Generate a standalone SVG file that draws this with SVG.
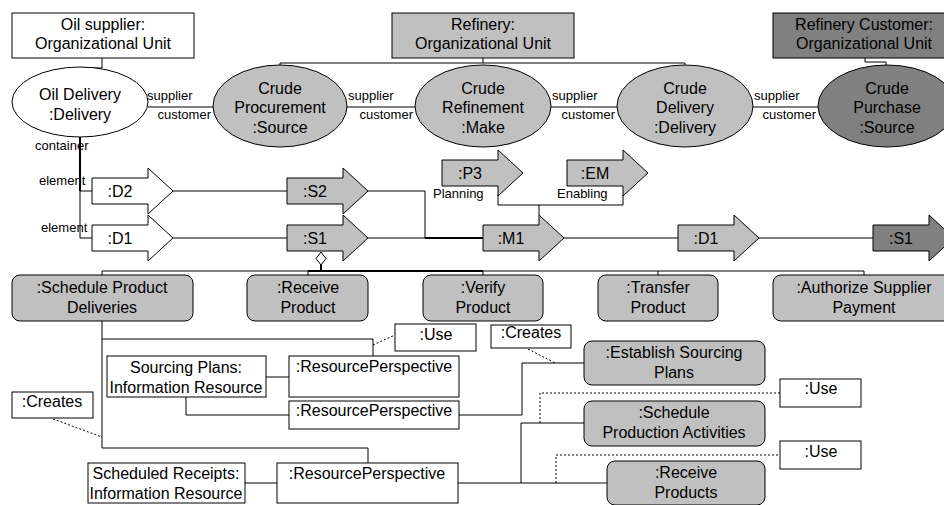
<svg xmlns="http://www.w3.org/2000/svg" xmlns:xlink="http://www.w3.org/1999/xlink" width="944" height="505" viewBox="0 0 944 505">
<style>
text{font-family:"Liberation Sans",Arial,sans-serif;font-size:16px;fill:#000;text-anchor:middle}
.sm{font-size:13px}
.st{text-anchor:start}
.en{text-anchor:end}
.box{stroke:#000;stroke-width:1}
.w{fill:#fff}
.g{fill:#c0c0c0}
.d{fill:#808080}
.ln{fill:none;stroke:#000;stroke-width:1}
.th{fill:none;stroke:#000;stroke-width:2}
.dot{fill:none;stroke:#000;stroke-width:1;stroke-dasharray:2,2}
</style>
<defs>
<path id="arr" d="M0,-13H56V-23L81,0L56,23V13H0Z" stroke="#000" stroke-width="1"/>
</defs>
<rect width="944" height="505" fill="#fff"/>

<g id="connectors">
<polyline class="ln" points="102,58 102,68 80,68 80,67"/>
<polyline class="ln" points="483,58 483,63"/>
<polyline class="ln" points="280,65 280,63 685,63 685,65"/>
<polyline class="ln" points="865,58 865,62 886,62 886,65"/>
<line class="ln" x1="148" y1="107" x2="213" y2="107"/>
<line class="ln" x1="347" y1="107" x2="415" y2="107"/>
<line class="ln" x1="551" y1="107" x2="617" y2="107"/>
<line class="ln" x1="753" y1="107" x2="818" y2="107"/>
<line class="th" x1="80" y1="137" x2="80" y2="191"/>
<polyline class="ln" points="92,191 80,191 80,238 92,238"/>
<line class="ln" x1="173" y1="191" x2="287" y2="191"/>
<line class="ln" x1="173" y1="238" x2="287" y2="238"/>
<polyline class="ln" points="368,191 425,191 425,238"/>
<line class="ln" x1="368" y1="238" x2="425" y2="238"/>
<line class="th" x1="425" y1="238" x2="483" y2="238"/>
<polyline class="ln" points="498,195 498,205 623,205 623,195"/>
<line class="ln" x1="539" y1="205" x2="539" y2="215"/>
<line class="ln" x1="563" y1="238" x2="678" y2="238"/>
<line class="ln" x1="759" y1="238" x2="873" y2="238"/>
<line class="th" x1="321" y1="265" x2="321" y2="271"/>
<line class="ln" x1="102" y1="271" x2="864" y2="271"/>
<line class="th" x1="308" y1="271" x2="483" y2="271"/>
<line class="ln" x1="102" y1="271" x2="102" y2="275"/>
<line class="ln" x1="308" y1="271" x2="308" y2="275"/>
<line class="ln" x1="483" y1="271" x2="483" y2="275"/>
<line class="ln" x1="658" y1="271" x2="658" y2="275"/>
<line class="ln" x1="864" y1="271" x2="864" y2="275"/>
<polygon points="321,252 326,258.5 321,265 316,258.5" fill="#fff" stroke="#000" stroke-width="1"/>
<polyline class="ln" points="102,321 102,448 368,448 368,463"/>
<polyline class="ln" points="102,339 373,339 373,356"/>
<line class="dot" x1="373" y1="345" x2="395" y2="335"/>
<line class="ln" x1="266" y1="377" x2="289" y2="377"/>
<polyline class="ln" points="186,397 186,415 289,415"/>
<polyline class="ln" points="459,415 522,415 522,363 584,363"/>
<line class="dot" x1="53" y1="419" x2="102" y2="437"/>
<line class="ln" x1="245" y1="483" x2="277" y2="483"/>
<line class="ln" x1="458" y1="483" x2="607" y2="483"/>
<polyline class="ln" points="521,483 521,423 584,423"/>
<polyline class="dot" points="556,483 556,455 780,455"/>
<polyline class="dot" points="540,423 540,393 780,393"/>
<line class="dot" x1="528" y1="349" x2="555" y2="363"/>
</g>

<g id="oil-supplier">
<rect class="box w" x="12" y="13" width="182" height="45"/>
<text x="103" y="30">Oil supplier:</text>
<text x="103" y="49">Organizational Unit</text>
</g>
<g id="refinery">
<rect class="box g" x="392" y="13" width="182" height="45"/>
<text x="483" y="30">Refinery:</text>
<text x="483" y="49">Organizational Unit</text>
</g>
<g id="refinery-customer">
<rect class="box d" x="773" y="13" width="182" height="45"/>
<text x="864" y="30">Refinery Customer:</text>
<text x="864" y="49">Organizational Unit</text>
</g>

<g id="oil-delivery">
<ellipse class="box w" cx="80" cy="102" rx="68" ry="35"/>
<text x="80" y="100">Oil Delivery</text>
<text x="80" y="120">:Delivery</text>
</g>
<g id="crude-procurement">
<ellipse class="box g" cx="280" cy="106" rx="67" ry="41"/>
<text x="280" y="94">Crude</text>
<text x="280" y="113">Procurement</text>
<text x="280" y="133">:Source</text>
</g>
<g id="crude-refinement">
<ellipse class="box g" cx="483" cy="106" rx="68" ry="41"/>
<text x="483" y="94">Crude</text>
<text x="483" y="113">Refinement</text>
<text x="483" y="133">:Make</text>
</g>
<g id="crude-delivery">
<ellipse class="box g" cx="685" cy="106" rx="68" ry="41"/>
<text x="685" y="94">Crude</text>
<text x="685" y="113">Delivery</text>
<text x="685" y="133">:Delivery</text>
</g>
<g id="crude-purchase">
<ellipse class="box d" cx="887" cy="106" rx="69" ry="41"/>
<text x="887" y="94">Crude</text>
<text x="887" y="113">Purchase</text>
<text x="887" y="133">:Source</text>
</g>

<g id="role-labels">
<text class="sm st" x="147" y="100">supplier</text>
<text class="sm en" x="211" y="119">customer</text>
<text class="sm st" x="348" y="100">supplier</text>
<text class="sm en" x="413" y="119">customer</text>
<text class="sm st" x="552" y="100">supplier</text>
<text class="sm en" x="615" y="119">customer</text>
<text class="sm st" x="754" y="100">supplier</text>
<text class="sm en" x="816" y="119">customer</text>
<text class="sm st" x="35" y="150">container</text>
<text class="sm st" x="39" y="185">element</text>
<text class="sm st" x="41" y="232">element</text>
<text class="sm st" x="433" y="198">Planning</text>
<text class="sm st" x="557" y="198">Enabling</text>
</g>

<g id="d2"><use xlink:href="#arr" href="#arr" class="w" x="92" y="191"/><text x="120" y="197">:D2</text></g>
<g id="d1"><use xlink:href="#arr" href="#arr" class="w" x="92" y="238"/><text x="120" y="244">:D1</text></g>
<g id="s2"><use xlink:href="#arr" href="#arr" class="g" x="287" y="191"/><text x="315" y="197">:S2</text></g>
<g id="s1"><use xlink:href="#arr" href="#arr" class="g" x="287" y="238"/><text x="315" y="244">:S1</text></g>
<g id="p3"><use xlink:href="#arr" href="#arr" class="g" x="442" y="173"/><text x="470" y="179">:P3</text></g>
<g id="em"><use xlink:href="#arr" href="#arr" class="g" x="567" y="173"/><text x="595" y="179">:EM</text></g>
<g id="m1"><use xlink:href="#arr" href="#arr" class="g" x="483" y="238"/><text x="511" y="244">:M1</text></g>
<g id="d1-right"><use xlink:href="#arr" href="#arr" class="g" x="678" y="238"/><text x="706" y="244">:D1</text></g>
<g id="s1-right"><use xlink:href="#arr" href="#arr" class="d" x="873" y="238"/><text x="901" y="244">:S1</text></g>

<g id="schedule-product-deliveries">
<rect class="box g" x="12" y="275" width="181" height="46" rx="8"/>
<text x="102" y="293">:Schedule Product</text>
<text x="102" y="313">Deliveries</text>
</g>
<g id="receive-product">
<rect class="box g" x="247" y="275" width="121" height="46" rx="8"/>
<text x="308" y="293">:Receive</text>
<text x="308" y="313">Product</text>
</g>
<g id="verify-product">
<rect class="box g" x="423" y="275" width="120" height="46" rx="8"/>
<text x="483" y="293">:Verify</text>
<text x="483" y="313">Product</text>
</g>
<g id="transfer-product">
<rect class="box g" x="598" y="275" width="120" height="46" rx="8"/>
<text x="658" y="293">:Transfer</text>
<text x="658" y="313">Product</text>
</g>
<g id="authorize-supplier-payment">
<rect class="box g" x="773" y="275" width="182" height="46" rx="8"/>
<text x="864" y="293">:Authorize Supplier</text>
<text x="864" y="313">Payment</text>
</g>

<g id="use-1"><rect class="box w" x="395" y="324" width="81" height="27"/><text x="436" y="340">:Use</text></g>
<g id="sourcing-plans">
<rect class="box w" x="107" y="356" width="159" height="41"/>
<text x="186" y="373">Sourcing Plans:</text>
<text x="186" y="393">Information Resource</text>
</g>
<g id="resource-perspective-1"><rect class="box w" x="289" y="356" width="170" height="41"/><text x="374" y="372">:ResourcePerspective</text></g>
<g id="resource-perspective-2"><rect class="box w" x="289" y="401" width="170" height="28"/><text x="374" y="416">:ResourcePerspective</text></g>
<g id="creates-1"><rect class="box w" x="12" y="392" width="81" height="26"/><text x="52" y="407">:Creates</text></g>
<g id="scheduled-receipts">
<rect class="box w" x="88" y="463" width="157" height="40"/>
<text x="166" y="479">Scheduled Receipts:</text>
<text x="166" y="499">Information Resource</text>
</g>
<g id="resource-perspective-3"><rect class="box w" x="277" y="463" width="181" height="40"/><text x="367" y="479">:ResourcePerspective</text></g>
<g id="creates-2"><rect class="box w" x="491" y="325" width="80" height="23"/><text x="531" y="338">:Creates</text></g>
<g id="establish-sourcing-plans">
<rect class="box g" x="584" y="341" width="181" height="44" rx="8"/>
<text x="674" y="358">:Establish Sourcing</text>
<text x="674" y="378">Plans</text>
</g>
<g id="schedule-production-activities">
<rect class="box g" x="584" y="401" width="181" height="45" rx="8"/>
<text x="674" y="418">:Schedule</text>
<text x="674" y="438">Production Activities</text>
</g>
<g id="receive-products">
<rect class="box g" x="607" y="461" width="158" height="44" rx="8"/>
<text x="686" y="478">:Receive</text>
<text x="686" y="498">Products</text>
</g>
<g id="use-2"><rect class="box w" x="780" y="379" width="81" height="28"/><text x="821" y="394">:Use</text></g>
<g id="use-3"><rect class="box w" x="780" y="441" width="81" height="28"/><text x="821" y="457">:Use</text></g>
</svg>
